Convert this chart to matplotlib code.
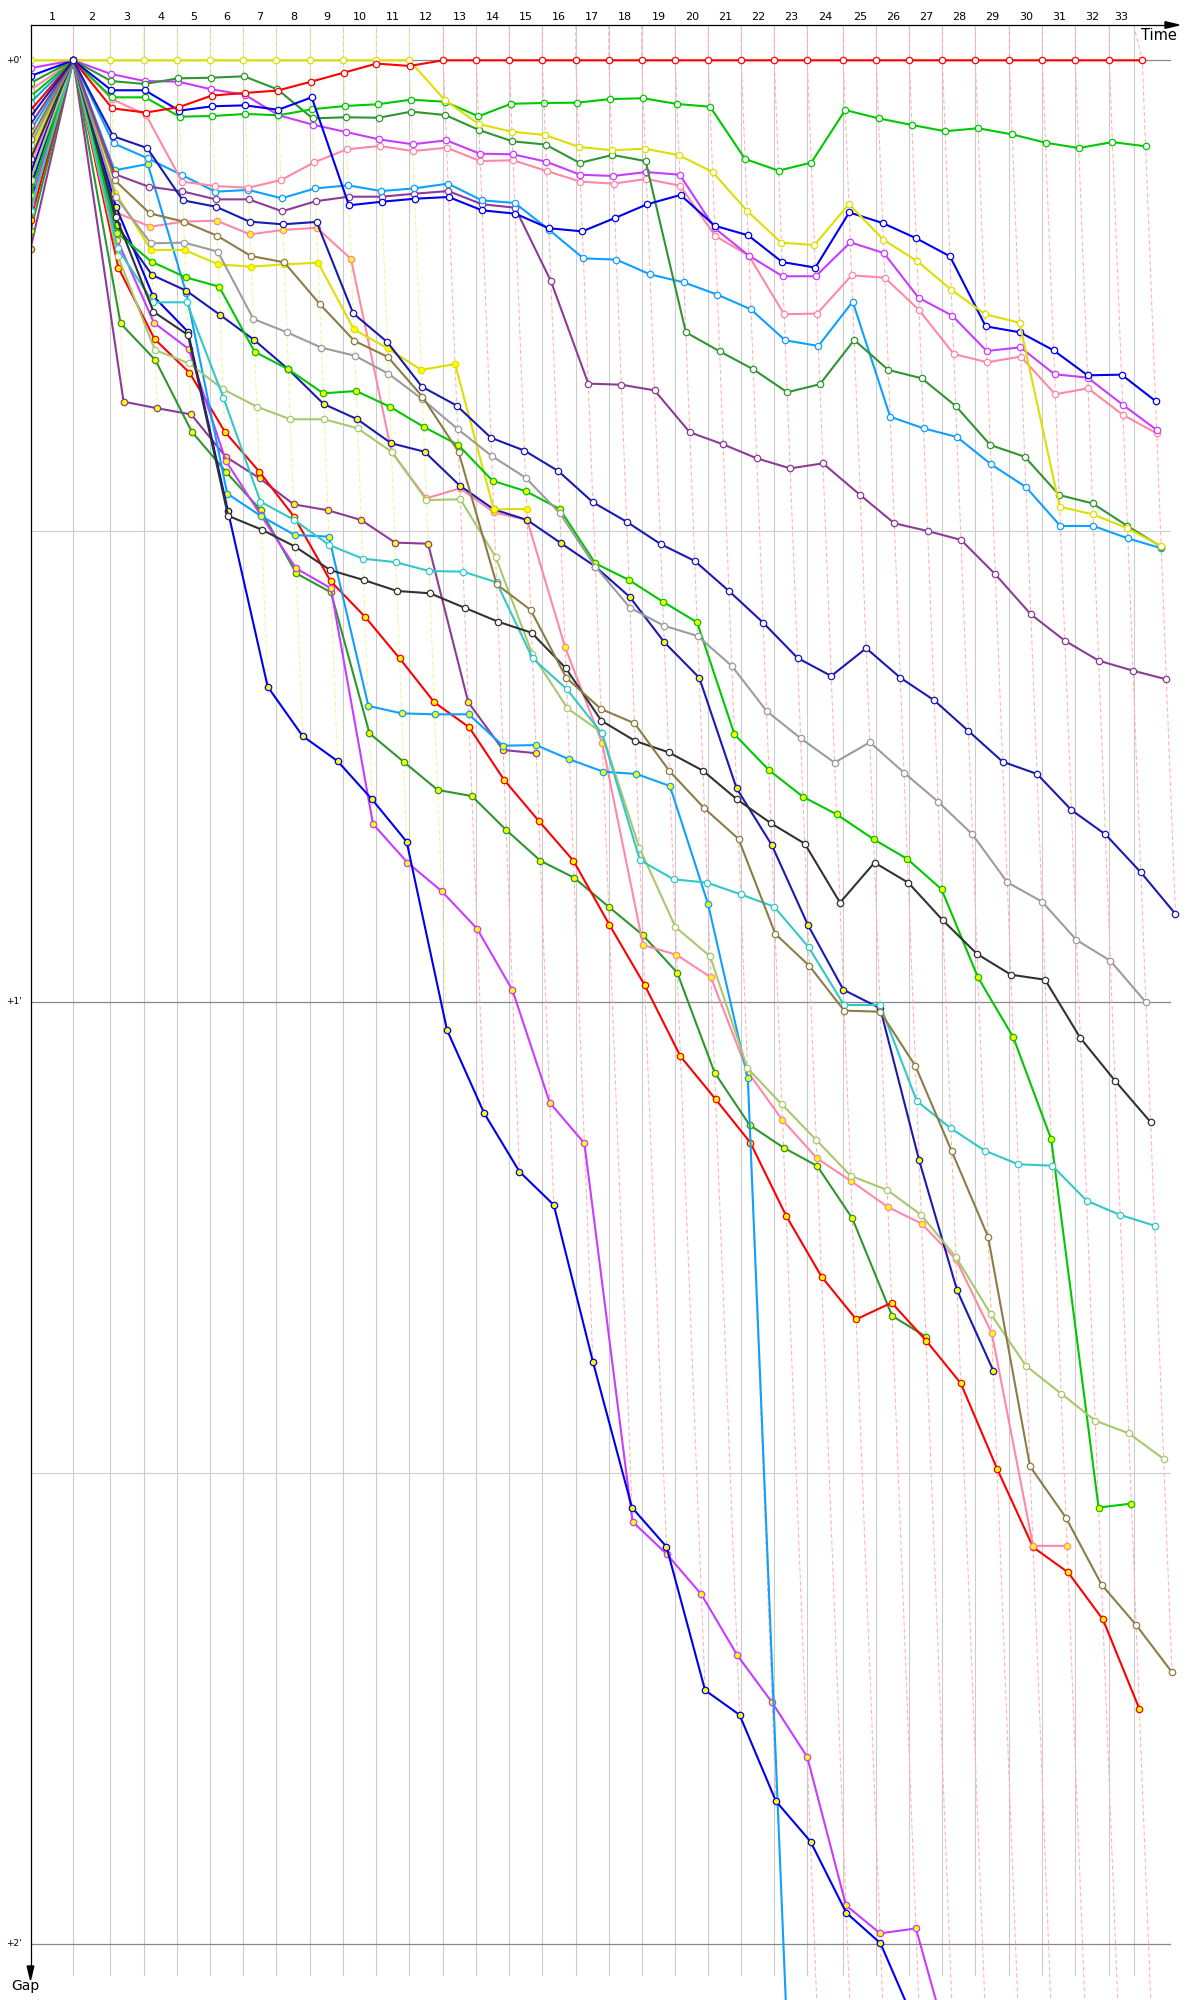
import matplotlib
matplotlib.use('Agg')
import matplotlib.pyplot as plt
from matplotlib.transforms import blended_transform_factory

# ---------------- data ----------------
# leader's lap completion times (s), laps 1..33
leader_times = [70.2, 130.8, 185.6, 240.7, 294.8, 348.9, 403.0, 458.7, 512.8, 566.9,
                621.0, 676.7, 730.8, 784.9, 839.0, 893.8, 947.9, 1002.0, 1057.0, 1111.1,
                1165.2, 1219.3, 1273.4, 1332.5, 1386.6, 1440.7, 1494.8, 1548.9, 1604.6, 1658.7,
                1712.8, 1768.5, 1822.6]
time_limit = 1808.5
lap_leader = ['red'] + ['yellow'] * 10 + ['red'] * 22
lap_labels = [str(i) for i in range(1, 34)]
gap_labels = ["+0'", "+1'", "+2'"]
gap_label_values = [0, 60, 120]

# gap to leader (s) per lap, index 0 = start, 1 = lap 1, ...
red_a = [3.2, 0, 3.06, 3.33, 2.98, 2.25, 2.08, 1.93, 1.36, 0.79, 0.21, 0.36,
         0, 0, 0, 0, 0, 0, 0, 0, 0, 0, 0, 0, 0, 0, 0, 0, 0, 0, 0, 0, 0, 0]
yellow_a = [0.0, 0, 0, 0, 0, 0, 0, 0, 0, 0, 0, 0,
            2.54, 4.06, 4.55, 4.76, 5.52, 5.73, 5.63, 6.05, 7.12, 9.6, 11.62, 11.77,
            9.16, 11.43, 12.79, 14.62, 16.18, 16.72, 28.44, 28.93, 29.82, 30.95]
green_a = [2.3, 0, 2.36, 2.36, 3.59, 3.55, 3.42, 3.5, 3.12, 2.91, 2.8, 2.51, 2.64, 3.57,
           2.77, 2.72, 2.7, 2.47, 2.42, 2.78, 2.96, 6.29, 7.03, 6.52, 3.17, 3.7, 4.12,
           4.52, 4.33, 4.72, 5.25, 5.59, 5.21, 5.48]
dkgreen_a = [1.45, 0, 1.32, 1.51, 1.15, 1.11, 1.02, 1.85, 3.7, 3.63, 3.66, 3.27, 3.49,
             4.44, 5.16, 5.37, 6.54, 6.03, 6.42, 17.33, 18.54, 19.69, 21.15, 20.64, 17.82,
             19.73, 20.26, 22.03, 24.51, 25.26, 27.7, 28.23, 29.67, 30.99]
magenta_a = [0.5, 0, 0.87, 1.32, 1.36, 1.85, 2.19, 3.5, 4.1, 4.57, 5.04, 5.35, 5.1, 5.95,
             5.99, 6.46, 7.29, 7.37, 7.12, 7.29, 10.7, 12.45, 13.76, 13.76, 11.6, 12.28,
             15.13, 16.27, 18.52, 18.29, 20.0, 20.22, 21.94, 23.55]
blue_a = [1.0, 0, 1.91, 1.91, 3.21, 2.93, 2.87, 3.15, 2.36, 9.24, 9.01, 8.82, 8.71, 9.56,
          9.77, 10.7, 10.9, 10.05, 9.17, 8.58, 10.54, 11.15, 12.85, 13.21, 9.69, 10.37,
          11.34, 12.49, 16.95, 17.33, 18.48, 20.07, 20.03, 21.71]
pink_a = [1.9, 0, 2.47, 3.47, 7.73, 8.01, 8.12, 7.63, 6.5, 5.67, 5.46, 5.78, 5.57, 6.42,
          6.37, 7.05, 7.73, 7.86, 7.56, 7.99, 11.19, 12.45, 16.18, 16.14, 13.7, 13.85,
          15.91, 18.71, 19.24, 18.88, 21.28, 20.9, 22.6, 23.77]
lightblue_a = [2.7, 0, 5.29, 6.24, 7.31, 8.37, 8.26, 8.79, 8.16, 7.97, 8.33, 8.16, 7.86,
               8.92, 9.09, 10.79, 12.62, 12.7, 13.64, 14.15, 14.93, 15.87, 17.84, 18.2,
               15.38, 22.71, 23.45, 24.0, 25.74, 27.19, 29.67, 29.67, 30.46, 31.09]
navy_a = [3.6, 0, 4.84, 5.59, 8.92, 9.33, 10.28, 10.45, 10.3, 16.12, 17.95, 20.8, 22.0,
          24.05, 24.87, 26.17, 28.16, 29.4, 30.82, 31.9, 33.81, 35.83, 38.08, 39.23,
          37.46, 39.34, 40.78, 42.73, 44.69, 45.47, 47.77, 49.32, 51.74, 54.39]
purple_a = [4.1, 0, 7.25, 8.05, 8.35, 8.86, 8.86, 9.62, 8.98, 8.69, 8.69, 8.5, 8.33, 9.17,
            9.39, 14.06, 20.6, 20.67, 21.03, 23.7, 24.47, 25.36, 26.0, 25.68, 27.7, 29.5,
            29.99, 30.56, 32.75, 35.3, 36.98, 38.25, 38.89, 39.44]
olive_a = [5.0, 0, 7.65, 9.75, 10.28, 11.18, 12.47, 12.87, 15.53, 17.87, 18.9, 21.43, 24.94,
           33.39, 35.02, 39.34, 41.33, 42.24, 45.28, 47.66, 49.61, 55.65, 57.71, 60.55,
           60.62, 64.08, 69.51, 74.95, 89.58, 92.86, 97.12, 99.69, 102.7]
gray_a = [5.4, 0, 8.69, 11.66, 11.62, 12.19, 16.48, 17.33, 18.31, 18.82, 19.97, 21.6, 23.49,
          25.21, 26.59, 28.86, 32.26, 34.88, 36.02, 36.68, 38.59, 41.46, 43.2, 44.75,
          43.45, 45.39, 47.24, 49.32, 52.37, 53.61, 56.05, 57.37, 60.02]
black_a = [6.3, 0, 10.0, 16.02, 17.5, 29.02, 29.9, 30.99, 32.48, 33.11, 33.81, 33.96, 34.88,
           35.77, 36.47, 38.74, 42.08, 43.37, 44.09, 45.26, 47.09, 48.61, 49.91, 53.67,
           51.12, 52.4, 54.79, 56.94, 58.26, 58.58, 62.29, 65.01, 67.65]
turquoise_a = [9.6, 0, 11.98, 15.42, 15.42, 21.5, 28.12, 29.29, 30.88, 31.75, 31.98, 32.54,
               32.58, 33.26, 38.1, 40.06, 42.88, 50.95, 52.18, 52.4, 53.14, 53.93, 56.52,
               60.19, 60.19, 66.31, 68.05, 69.47, 70.34, 70.43, 72.66, 73.57, 74.25]
yellowgreen_a = [7.6, 0, 12.5, 18.46, 19.31, 20.96, 22.07, 22.87, 22.87, 23.45, 24.94, 28.02,
                 27.97, 31.63, 37.85, 41.29, 42.84, 50.17, 55.22, 57.09, 64.22, 66.52, 68.79,
                 71.07, 71.98, 73.57, 76.25, 79.91, 83.19, 84.95, 86.67, 87.48, 89.11]

purple_b = [12.0, 0, 21.75, 22.17, 22.56, 25.26, 26.63, 28.29, 28.67, 29.29, 30.73, 30.8,
            40.9, 43.94, 44.15]
dkgreen_b = [10.9, 0, 16.76, 19.1, 23.66, 26.25, 28.67, 32.69, 33.9, 42.88, 44.69, 46.49,
             46.88, 49.04, 51.0, 52.08, 53.93, 55.73, 58.13, 64.5, 67.84, 69.28, 70.45,
             73.78, 80.0, 81.32]
red_b = [10.2, 0, 13.21, 17.76, 19.9, 23.66, 26.21, 29.08, 33.18, 35.45, 38.1, 40.9, 42.5,
         45.86, 48.47, 51.0, 55.07, 58.92, 63.46, 66.2, 68.96, 73.63, 77.5, 80.22, 79.16,
         81.57, 84.29, 89.74, 94.74, 96.34, 99.34, 105.04]
magenta_b = [9.1, 0, 11.45, 16.72, 18.39, 25.53, 29.0, 32.37, 33.64, 48.66, 51.12, 52.93,
             55.33, 59.24, 66.42, 69.0, 93.11, 95.18, 97.74, 101.62, 104.63, 108.1, 117.55,
             119.34, 119.03, 127.8]
pink_b = [6.7, 0, 9.7, 10.6, 10.28, 10.22, 11.09, 10.81, 10.67, 12.66, 24.94, 27.91, 27.27,
          28.8, 29.29, 37.4, 43.52, 56.37, 56.99, 58.43, 64.44, 67.52, 69.96, 71.4, 73.06,
          74.12, 76.4, 81.1, 94.65, 94.65]
lightblue_b = [4.5, 0, 7.01, 6.61, 14.85, 27.61, 29.04, 30.25, 30.35, 41.14, 41.61, 41.67,
               41.67, 43.67, 43.63, 44.54, 45.33, 45.47, 46.24, 53.76, 64.86, 1000.0]
blue_b = [7.2, 0, 9.33, 15.0, 17.29, 28.7, 39.91, 43.05, 44.65, 47.09, 49.79, 61.78, 67.09,
          70.81, 72.93, 82.91, 92.21, 94.71, 103.85, 105.42, 110.92, 113.49, 118.03,
          119.97, 125.8]
navy_b = [8.1, 0, 10.51, 13.68, 14.68, 16.23, 17.82, 19.69, 21.9, 22.87, 24.4, 24.94, 27.1,
          28.61, 29.29, 30.77, 32.26, 34.18, 37.08, 39.34, 46.38, 50.0, 55.09, 59.22, 60.4,
          70.07, 78.38, 83.48]
yellow_b = [5.8, 0, 8.43, 12.09, 12.09, 13.0, 13.15, 13.0, 12.9, 17.14, 18.35, 19.73,
            19.35, 28.61, 28.59]
green_b = [8.6, 0, 11.0, 12.83, 13.83, 14.42, 18.57, 19.69, 21.22, 21.07, 22.07, 23.35,
           24.51, 26.79, 27.46, 28.59, 32.05, 33.11, 34.49, 35.81, 42.95, 45.22, 46.92,
           48.04, 49.63, 50.89, 52.82, 58.43, 62.25, 68.75, 92.21, 91.96]

# drivers still running below the bottom of the chart, and the last lap they completed
below_chart = [(lightblue_b, 31), (blue_b, 31), (magenta_b, 31)]

# ---------------- styles ----------------
colors = {
    'yellow': '#dede00', 'red': '#ff0000', 'green': '#00c800', 'dkgreen': '#2e962e',
    'blue': '#0000f0', 'navy': '#1a1ab0', 'magenta': '#c83cff', 'pink': '#ff88a8',
    'lightblue': '#0ea0ff', 'purple': '#8c3c96', 'gray': '#9c9c9c', 'olive': '#8c7c46',
    'yellowgreen': '#a8c86e', 'black': '#323232', 'turquoise': '#32c8c8',
}
dash_colors = {'red': '#ffb0b0', 'yellow': '#f2f29a'}
faces = {'a': 'white', 'b': '#ffff00'}

drivers = [
    (purple_b, 'purple', 'b'), (dkgreen_b, 'dkgreen', 'b'), (red_b, 'red', 'b'),
    (magenta_b, 'magenta', 'b'), (pink_b, 'pink', 'b'), (lightblue_b, 'lightblue', 'b'),
    (blue_b, 'blue', 'b'), (navy_b, 'navy', 'b'), (yellow_b, 'yellow', 'b'),
    (green_b, 'green', 'b'),
    (yellowgreen_a, 'yellowgreen', 'a'), (turquoise_a, 'turquoise', 'a'),
    (black_a, 'black', 'a'), (gray_a, 'gray', 'a'), (olive_a, 'olive', 'a'),
    (purple_a, 'purple', 'a'), (lightblue_a, 'lightblue', 'a'), (pink_a, 'pink', 'a'),
    (magenta_a, 'magenta', 'a'), (dkgreen_a, 'dkgreen', 'a'), (green_a, 'green', 'a'),
    (blue_a, 'blue', 'a'), (yellow_a, 'yellow', 'a'), (red_a, 'red', 'a'),
    (navy_a, 'navy', 'a'),
]

# ---------------- layout (pixels) ----------------
W, H = 1200, 2000
X0, YTOP_PX, Y0 = 30.5, 25.0, 60.3
XS, YS = 0.61, 15.695          # px per second (time, gap)
GRID_BOTTOM_PX, HLINE_END_PX = 1975, 1170

fig = plt.figure(figsize=(W / 100, H / 100), dpi=100)
ax = fig.add_axes([X0 / W, 0, 1 - X0 / W, (H - YTOP_PX) / H])
ax.set_xlim(0, (W - X0) / XS)
ybot, ytop = (H - Y0) / YS, (YTOP_PX - Y0) / YS
ax.set_ylim(ybot, ytop)
ax.axis('off')

grid_times = leader_times[:-1] + [time_limit]
grid_bottom = (GRID_BOTTOM_PX - Y0) / YS
for t in grid_times:
    ax.plot([t, t], [ytop, grid_bottom], color='#cccccc', lw=0.8, zorder=1)

t_end = (HLINE_END_PX - X0) / XS
for g in (30, 90):
    ax.plot([0, t_end], [g, g], color='#cccccc', lw=0.8, zorder=1)
for g in gap_label_values:
    ax.plot([0, t_end], [g, g], color='#888888', lw=0.9, zorder=1)

# dashed lap lines
for k in range(1, len(leader_times) + 1):
    vals = [d[k] for d, _, _ in drivers if len(d) > k]
    gmax = max(vals)
    if any(len(d) - 1 < k <= last for d, last in below_chart):
        gmax = ybot + 10
    lt = leader_times[k - 1]
    ax.plot([grid_times[k - 1], lt, lt + gmax], [ytop, 0, gmax],
            color=dash_colors[lap_leader[k - 1]], lw=0.75, ls=(0, (4, 2.5)), zorder=2)

# driver lines
for z, (gaps, cname, cls) in enumerate(drivers):
    xs = [0.0] + [leader_times[k - 1] + g for k, g in enumerate(gaps[1:], start=1)]
    c = colors[cname]
    ax.plot(xs, gaps, color=c, lw=1.5, marker='o', ms=4.6, mfc=faces[cls], mec=c,
            mew=0.9, zorder=3 + z * 0.01)

# lap labels
tr_top = blended_transform_factory(ax.transData, fig.transFigure)
edges = [0.0] + grid_times
for k, lab in enumerate(lap_labels, start=1):
    xc = (edges[k - 1] + edges[k]) / 2
    ax.text(xc, 1 - 17.5 / H, lab, transform=tr_top, ha='center', va='center',
            fontsize=8, color='black')

tr_left = blended_transform_factory(fig.transFigure, ax.transData)
for lab, g in zip(gap_labels, gap_label_values):
    ax.text(22 / W, g, lab, transform=tr_left, ha='right', va='center', fontsize=6.5)

# overlay for axis arrows and titles
ov = fig.add_axes([0, 0, 1, 1], zorder=5)
ov.set_xlim(0, W)
ov.set_ylim(H, 0)
ov.axis('off')
ov.patch.set_alpha(0)
ov.plot([X0, 1168], [YTOP_PX, YTOP_PX], color='black', lw=0.9)
ov.fill([1165, 1179, 1165], [YTOP_PX - 3.3, YTOP_PX, YTOP_PX + 3.3], color='black')
ov.plot([X0, X0], [YTOP_PX, 1968], color='black', lw=0.9)
ov.fill([X0 - 3.3, X0, X0 + 3.3], [1966, 1980, 1966], color='black')
ov.text(1177, 35, 'Time', ha='right', va='center', fontsize=10.5)
ov.text(11, 1986, 'Gap', ha='left', va='center', fontsize=10)

fig.savefig('out.png', dpi=100)
